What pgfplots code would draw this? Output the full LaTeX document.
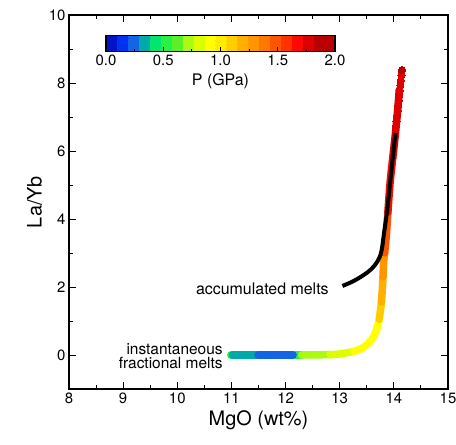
\documentclass[border=0pt]{standalone}
\usepackage{pgfplots}
\pgfplotsset{compat=1.18}
\usetikzlibrary{calc}
\usepackage{fontspec}
\setmainfont{TeX Gyre Heros}
\definecolor{c1}{RGB}{0,20,200}
\definecolor{c2}{RGB}{0,50,240}
\definecolor{c3}{RGB}{20,100,230}
\definecolor{c4}{RGB}{0,170,170}
\definecolor{c5}{RGB}{0,230,110}
\definecolor{c6}{RGB}{40,240,70}
\definecolor{c7}{RGB}{90,240,40}
\definecolor{c8}{RGB}{170,250,20}
\definecolor{c9}{RGB}{220,255,0}
\definecolor{c10}{RGB}{255,255,0}
\definecolor{c11}{RGB}{255,235,0}
\definecolor{c12}{RGB}{255,205,0}
\definecolor{c13}{RGB}{255,175,0}
\definecolor{c14}{RGB}{255,150,0}
\definecolor{c15}{RGB}{255,120,0}
\definecolor{c16}{RGB}{255,85,0}
\definecolor{c17}{RGB}{255,50,0}
\definecolor{c18}{RGB}{250,10,0}
\definecolor{c19}{RGB}{220,0,0}
\definecolor{c20}{RGB}{185,0,0}
\begin{document}
\begin{tikzpicture}
\begin{axis}[
  name=main,
  scale only axis, width=379bp, height=374bp,
  xmin=8, xmax=15, ymin=-1, ymax=10,
  xtick={8,...,15}, minor xtick={8.5,9.5,...,14.5},
  ytick={0,2,...,10}, minor ytick={1,3,5,7,9},
  tick align=inside,
  major tick length=7bp, minor tick length=4bp,
  axis line style={line width=1.2bp},
  every tick/.style={black, line width=0.9bp},
  /pgf/number format/assume math mode=true,
  tick label style={font=\fontsize{15}{18}\selectfont},
  label style={font=\fontsize{20}{24}\selectfont},
  xlabel={MgO (wt\%)}, ylabel={La/Yb},
  colormap={pgpa}{rgb255=(0,20,200) rgb255=(0,50,240) rgb255=(20,100,230) rgb255=(0,170,170)
    rgb255=(0,230,110) rgb255=(40,240,70) rgb255=(90,240,40) rgb255=(170,250,20)
    rgb255=(220,255,0) rgb255=(255,255,0) rgb255=(255,235,0) rgb255=(255,205,0)
    rgb255=(255,175,0) rgb255=(255,150,0) rgb255=(255,120,0) rgb255=(255,85,0)
    rgb255=(255,50,0) rgb255=(250,10,0) rgb255=(220,0,0) rgb255=(185,0,0) rgb255=(185,0,0)},
  colormap access=piecewise constant,
  point meta min=0, point meta max=2,
  colorbar horizontal,
  colorbar style={
    at={($(parent axis.north west)+(37bp,-12bp)$)}, anchor=north west,
    scale only axis, width=229bp, height=16bp,
    xtick={0,0.5,...,2}, minor xtick={0.25,0.75,1.25,1.75},
    xtick pos=left, ytick=\empty,
    tick align=inside,
    major tick length=5bp, minor tick length=3bp,
    every tick/.style={black, line width=0.9bp},
    axis line style={line width=1.2bp},
    /pgf/number format/assume math mode=true,
    xticklabel style={font=\fontsize{15}{18}\selectfont, /pgf/number format/.cd, fixed, fixed zerofill, precision=1},
    xlabel={P (GPa)},
    xlabel style={font=\fontsize{16}{19}\selectfont, yshift=-1bp},
  },
]
\pgfplotsset{every axis plot/.append style={line width=7.5bp, line cap=round}}
\addplot[c6] coordinates {(10.99,0) (11.02,0)};
\addplot[c4] coordinates {(11.02,0) (11.49,0)};
\addplot[c6] coordinates {(12.14,0) (12.30,0)};
\addplot[c8] coordinates {(12.30,0) (12.82,0.01)};
\addplot[c9, smooth] coordinates {(12.82,0.01) (13.0,0.03) (13.25,0.1)};
\addplot[c10, smooth] coordinates {(13.25,0.1) (13.4,0.19) (13.5,0.3) (13.6,0.47) (13.66,0.66) (13.70,0.85) (13.73,1.05)};
\addplot[c12, smooth] coordinates {(13.73,1.05) (13.76,1.4) (13.77,1.56)};
\addplot[c13, smooth] coordinates {(13.77,1.56) (13.79,2.0) (13.80,2.3)};
\addplot[c14, smooth] coordinates {(13.80,2.3) (13.81,2.7) (13.83,3.0)};
\addplot[c16, smooth] coordinates {(13.83,3.0) (13.86,3.5) (13.89,4.2)};
\addplot[c18, smooth] coordinates {(13.89,4.2) (13.93,5.06) (13.98,5.8)};
\addplot[c19, smooth] coordinates {(13.98,5.8) (14.03,6.53) (14.07,7.2) (14.10,7.8)};
\addplot[c3] coordinates {(11.49,0) (12.14,0)};
\addplot[only marks, mark=*, mark size=3.6bp, c19, line width=0pt] coordinates {
 (14.04,6.73) (14.05,6.88) (14.06,7.03) (14.07,7.18) (14.08,7.33) (14.09,7.48)
 (14.10,7.63) (14.11,7.78) (14.12,7.93) (14.13,8.08) (14.14,8.23)};
\addplot[only marks, mark=*, mark size=3.6bp, c20, line width=0pt] coordinates {(14.15,8.38)};
\addplot[black, line width=4bp, line cap=butt, smooth, tension=0.6] coordinates {
 (13.05,2.03) (13.25,2.17) (13.43,2.34) (13.58,2.52) (13.70,2.76) (13.77,3.05)
 (13.82,3.6) (13.88,4.3) (13.93,5.06) (13.98,5.8) (14.03,6.53)};
\node[anchor=base east, inner sep=0pt, font=\fontsize{16}{19}\selectfont] at (axis cs:12.80,1.79) {accumulated melts};
\node[anchor=base east, inner sep=0pt, font=\fontsize{15.5}{19}\selectfont] at (axis cs:10.84,0.02) {instantaneous};
\node[anchor=base east, inner sep=0pt, font=\fontsize{15.5}{19}\selectfont] at (axis cs:10.84,-0.40) {fractional melts};
\end{axis}
\pgfresetboundingbox
\path[use as bounding box] ($(main.south west)+(-69bp,-56bp)$) rectangle ($(main.north east)+(8bp,15bp)$);
\end{tikzpicture}
\end{document}
